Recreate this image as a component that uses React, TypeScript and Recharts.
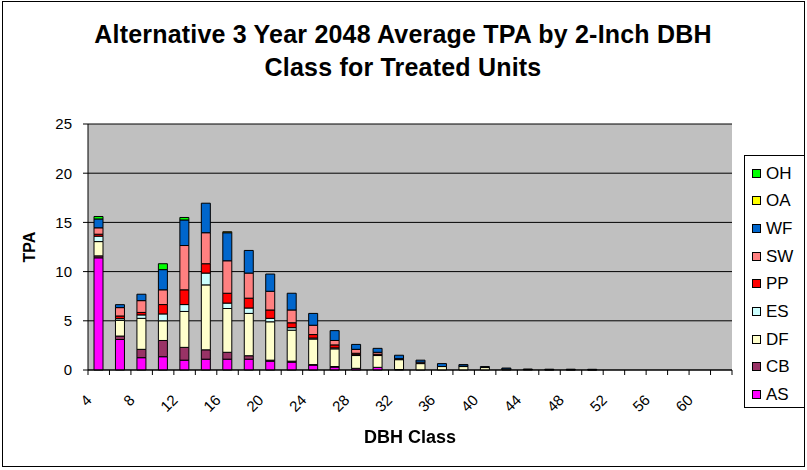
import { BarChart, Bar, XAxis, YAxis, CartesianGrid } from 'recharts'

// DBH class midpoints (inches)
const DBH = [4, 6, 8, 10, 12, 14, 16, 18, 20, 22, 24, 26, 28, 30, 32, 34, 36, 38, 40, 42, 44, 46, 48, 50, 52, 54, 56, 58, 60, 62]

// TPA per species
const AS = [11.4, 3.1, 1.25, 1.35, 1.0, 1.1, 1.1, 1.1, 0.9, 0.8, 0.5, 0.3, 0.17, 0.27, 0.05, 0, 0, 0, 0, 0, 0, 0, 0, 0, 0, 0, 0, 0, 0, 0]
const CB = [0.2, 0.35, 0.85, 1.65, 1.3, 0.95, 0.7, 0.35, 0.1, 0.1, 0.05, 0.05, 0, 0, 0, 0, 0, 0, 0, 0, 0, 0, 0, 0, 0, 0, 0, 0, 0, 0]
const DF = [1.45, 1.6, 3.15, 2.0, 3.65, 6.6, 4.45, 4.3, 3.9, 3.15, 2.6, 1.8, 1.3, 1.2, 1.0, 0.65, 0.35, 0.35, 0.25, 0.1, 0.05, 0.03, 0.03, 0.02, 0, 0, 0, 0, 0, 0]
const ES = [0.55, 0.17, 0.35, 0.7, 0.7, 1.2, 0.55, 0.55, 0.35, 0.25, 0.1, 0.1, 0.08, 0.03, 0, 0, 0, 0, 0, 0, 0, 0, 0, 0, 0, 0, 0, 0, 0, 0]
const PP = [0.2, 0.27, 0.25, 0.95, 1.5, 0.95, 1.0, 1.0, 0.85, 0.5, 0.35, 0.3, 0.15, 0.1, 0.05, 0, 0, 0, 0, 0, 0, 0, 0, 0, 0, 0, 0, 0, 0, 0]
const SW = [0.65, 0.85, 1.2, 1.5, 4.5, 3.15, 3.3, 2.55, 1.9, 1.3, 0.95, 0.45, 0.4, 0.2, 0.05, 0.15, 0, 0.05, 0, 0, 0, 0, 0, 0, 0, 0, 0, 0, 0, 0]
const WF = [0.9, 0.3, 0.65, 2.05, 2.6, 3.0, 2.85, 2.3, 1.75, 1.7, 1.2, 1.0, 0.5, 0.4, 0.35, 0.2, 0.3, 0.15, 0.1, 0.1, 0.05, 0.05, 0.05, 0.05, 0, 0, 0, 0, 0, 0]
const OA = [0, 0, 0, 0, 0, 0, 0.1, 0, 0, 0, 0, 0, 0, 0, 0, 0, 0, 0, 0, 0, 0, 0, 0, 0, 0, 0, 0, 0, 0, 0]
const OH = [0.25, 0, 0, 0.6, 0.25, 0, 0, 0, 0, 0, 0, 0, 0, 0, 0, 0, 0, 0, 0, 0, 0, 0, 0, 0, 0, 0, 0, 0, 0, 0]

const Y_TICKS = [0, 5, 10, 15, 20, 25]

// stack order, bottom to top
const SERIES = [
  { key: 'AS', values: AS, color: '#FF00FF' },
  { key: 'CB', values: CB, color: '#993366' },
  { key: 'DF', values: DF, color: '#FFFFCC' },
  { key: 'ES', values: ES, color: '#CCFFFF' },
  { key: 'PP', values: PP, color: '#FF0000' },
  { key: 'SW', values: SW, color: '#FF8080' },
  { key: 'WF', values: WF, color: '#0066CC' },
  { key: 'OA', values: OA, color: '#FFFF00' },
  { key: 'OH', values: OH, color: '#00FF00' },
]

const FONT = '"Liberation Sans", Arial, sans-serif'

const data = DBH.map((dbh, i) => {
  const row: Record<string, number> = { dbh }
  SERIES.forEach((s) => { row[s.key] = s.values[i] })
  return row
})

// Excel-style category ticks: marks on band edges, slanted label on every other class
function DbhTick(props: any) {
  const { x, y, payload, index } = props
  const half = payload?.offset || 10.73
  const last = index === DBH.length - 1
  const lx = x - 6
  const ly = y + 31
  return (
    <g>
      <line x1={x - half} x2={x - half} y1={y} y2={y + 5} stroke="#000" />
      {last && <line x1={x + half} x2={x + half} y1={y} y2={y + 5} stroke="#000" />}
      {index % 2 === 0 && (
        <g transform={`translate(${lx}, ${ly}) rotate(-45)`}>
          <text x={0} y={0} textAnchor="end" fontSize={15} fontFamily={FONT} fill="#000">
            {payload.value}
          </text>
        </g>
      )}
    </g>
  )
}

export default function App() {
  return (
    <div style={{ position: 'fixed', left: 0, top: 0, width: 807, height: 470, background: '#fff', fontFamily: FONT }}>
      <div style={{ position: 'absolute', left: 2, top: 1, width: 803, height: 466, border: '1px solid #000', boxSizing: 'border-box' }} />

      <div style={{ position: 'absolute', left: 0, top: 18, width: 806, textAlign: 'center', fontSize: 25, fontWeight: 'bold', lineHeight: '33px', letterSpacing: 0.2 }}>
        <div>Alternative 3 Year 2048 Average TPA by 2-Inch DBH</div>
        <div>Class for Treated Units</div>
      </div>

      <BarChart
        width={807}
        height={470}
        data={data}
        margin={{ top: 124, right: 75, bottom: 40, left: 28 }}
        barSize={9}
        style={{ position: 'absolute', left: 0, top: 0 }}
      >
        <CartesianGrid vertical={false} stroke="#000" fill="#C0C0C0" fillOpacity={1} />
        <XAxis
          dataKey="dbh"
          interval={0}
          height={60}
          tickSize={0}
          tickMargin={0}
          tickLine={false}
          axisLine={{ stroke: '#000' }}
          tick={(p: any) => <DbhTick {...p} />}
        />
        <YAxis
          domain={[0, 25]}
          ticks={Y_TICKS}
          width={60}
          tickSize={5}
          tickMargin={11}
          axisLine={{ stroke: '#000' }}
          tickLine={{ stroke: '#000' }}
          tick={{ fontSize: 15, fill: '#000', fontFamily: FONT }}
        />
        <YAxis
          yAxisId="r"
          orientation="right"
          domain={[0, 25]}
          width={0}
          tick={false}
          tickLine={false}
          axisLine={{ stroke: '#808080' }}
        />
        {SERIES.map((s) => (
          <Bar
            key={s.key}
            dataKey={s.key}
            stackId="tpa"
            fill={s.color}
            stroke="#000"
            strokeWidth={1}
            isAnimationActive={false}
          />
        ))}
      </BarChart>

      <div style={{ position: 'absolute', left: 22, top: 247, transform: 'translate(-50%, -50%) rotate(-90deg)', fontSize: 16, fontWeight: 'bold', whiteSpace: 'nowrap', lineHeight: 1, marginLeft: 8 }}>
        TPA
      </div>
      <div style={{ position: 'absolute', left: 0, width: 820, top: 428, textAlign: 'center', fontSize: 18, fontWeight: 'bold', lineHeight: 1 }}>
        DBH Class
      </div>

      <div style={{ position: 'absolute', left: 744, top: 155, width: 61, height: 253, border: '1px solid #000', boxSizing: 'border-box', background: '#fff' }}>
        {[...SERIES].reverse().map((s, i) => (
          <div key={s.key} style={{ position: 'absolute', left: 0, top: 7 + i * 27.7, height: 20, display: 'flex', alignItems: 'center' }}>
            <div style={{ width: 7, height: 7, marginLeft: 7, background: s.color, border: '1px solid #000' }} />
            <span style={{ marginLeft: 5, fontSize: 17, lineHeight: 1 }}>{s.key}</span>
          </div>
        ))}
      </div>
    </div>
  )
}
